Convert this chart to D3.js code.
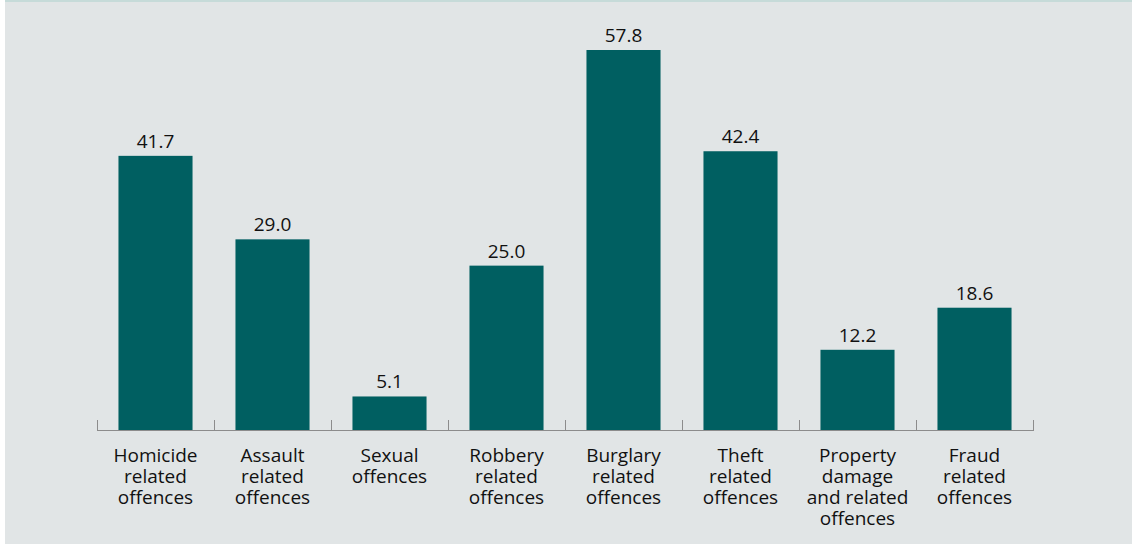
<!DOCTYPE html>
<html>
<head>
<meta charset="utf-8">
<script src="https://cdn.jsdelivr.net/npm/d3@7"></script>
<style>
  body { margin: 0; background: #ffffff; }
  svg { display: block; }
</style>
</head>
<body>
<svg id="chart" width="1132" height="544"></svg>
<script>
// offence categories, one label line per array entry
const categories = [
    ["Homicide", "related", "offences"],
    ["Assault", "related", "offences"],
    ["Sexual", "offences"],
    ["Robbery", "related", "offences"],
    ["Burglary", "related", "offences"],
    ["Theft", "related", "offences"],
    ["Property", "damage", "and related", "offences"],
    ["Fraud", "related", "offences"]
]
const values = [41.7, 29.0, 5.1, 25.0, 57.8, 42.4, 12.2, 18.6]

const svg = d3.select('#chart')

// panel background
svg.append('rect')
    .attr('x', 5).attr('y', 0)
    .attr('width', 1127).attr('height', 544)
    .attr('fill', '#e1e5e6')
svg.append('rect')
    .attr('x', 5).attr('y', 0)
    .attr('width', 1127).attr('height', 2)
    .attr('fill', '#c6dbd9')

const baseY = 430
const x = d3.scaleBand()
    .domain(d3.range(categories.length))
    .range([97, 1033])
    .paddingInner(0.367)
    .paddingOuter(0.1835)

const y = d3.scaleLinear()
    .domain([0, 57.8])
    .range([baseY, 50])

// bars
svg.selectAll('rect.bar')
    .data(values)
    .enter().append('rect')
    .attr('class', 'bar')
    .attr('x', (d, i) => x(i))
    .attr('y', d => y(d))
    .attr('width', x.bandwidth())
    .attr('height', d => baseY - y(d))
    .attr('fill', '#005f61')

// value labels
svg.selectAll('text.val')
    .data(values)
    .enter().append('text')
    .attr('class', 'val')
    .attr('x', (d, i) => x(i) + x.bandwidth() / 2)
    .attr('y', d => y(d) - 8)
    .attr('text-anchor', 'middle')
    .style('font-family', 'Open Sans, sans-serif')
    .style('font-size', '19px')
    .attr('fill', '#111111')
    .text(d => d.toFixed(1))

// baseline with ticks between categories
const step = x.step()
const axisG = svg.append('g')
axisG.append('line')
    .attr('x1', 97).attr('x2', 1033)
    .attr('y1', baseY + 0.5).attr('y2', baseY + 0.5)
    .attr('stroke', '#8c8c8c').attr('stroke-width', 1)
d3.range(categories.length + 1).forEach(i => {
    let tx = Math.round(97 + i * step) + 0.5
    axisG.append('line')
        .attr('x1', tx).attr('x2', tx)
        .attr('y1', baseY - 10).attr('y2', baseY + 1)
        .attr('stroke', '#8c8c8c').attr('stroke-width', 1)
})

// category labels
const labels = svg.selectAll('text.cat')
    .data(categories)
    .enter().append('text')
    .attr('class', 'cat')
    .attr('text-anchor', 'middle')
    .style('font-family', 'Open Sans, sans-serif')
    .style('font-size', '19px')
    .attr('fill', '#111111')
labels.each(function(lines, i) {
    let cx = x(i) + x.bandwidth() / 2
    lines.forEach((line, j) => {
        d3.select(this).append('tspan')
            .attr('x', cx)
            .attr('y', 462 + j * 21)
            .text(line)
    })
})
</script>
</body>
</html>
